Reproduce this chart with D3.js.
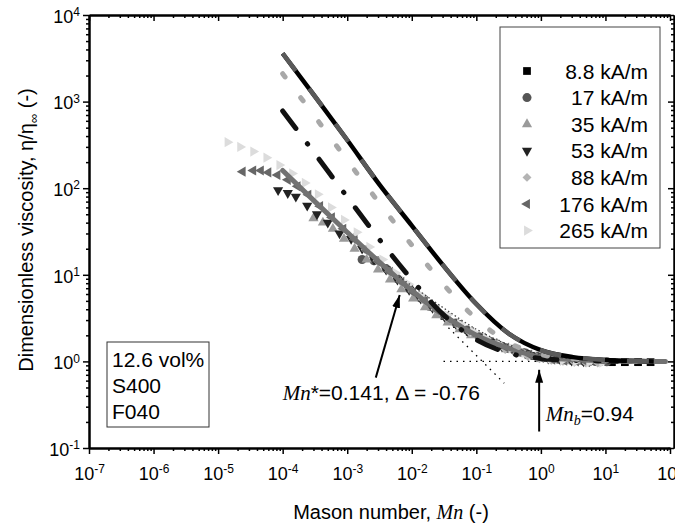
<!DOCTYPE html>
<html>
<head>
<meta charset="utf-8">
<script src="https://cdn.jsdelivr.net/npm/d3@7"></script>
<style>
  body { margin: 0; background: #fff; }
  text { font-family: "Liberation Sans", Arial, sans-serif; fill: #000; }
  .it { font-family: "Liberation Serif", "Times New Roman", serif; font-style: italic; }
</style>
</head>
<body>
<svg id="chart" width="675" height="526"></svg>
<script>
// ---- data ----
const seriesNames = ["8.8 kA/m", "17 kA/m", "35 kA/m", "53 kA/m", "88 kA/m", "176 kA/m", "265 kA/m"];

const mn8   = [0.0126, 0.02, 0.032, 0.05, 0.079, 0.126, 0.2, 0.32, 0.5, 0.79, 1.26, 2.0, 3.2, 5.0, 7.9, 12.6, 20, 32, 50];
const eta8  = [5.6, 4.3, 3.35, 2.7, 2.2, 1.85, 1.6, 1.4, 1.27, 1.16, 1.09, 1.05, 1.02, 1.0, 0.99, 0.98, 0.98, 0.98, 0.98];

const mn17  = [1.7e-3, 2.6e-3, 4.0e-3, 6.0e-3, 9.1e-3, 0.0138, 0.021, 0.032, 0.048, 0.072, 0.11, 0.166, 0.25, 0.38, 0.58, 0.87, 1.3, 2.0, 3.0, 4.6, 6.9, 10.5];
const eta17 = [15, 14.5, 11.8, 9.0, 6.9, 5.4, 4.25, 3.35, 2.78, 2.3, 1.93, 1.7, 1.5, 1.36, 1.25, 1.15, 1.1, 1.06, 1.03, 1.01, 1.0, 0.99];

const mn35  = [3.0e-4, 4.2e-4, 6.0e-4, 8.9e-4, 1.3e-3, 2.0e-3, 3.0e-3, 4.6e-3, 6.9e-3, 0.0105, 0.016, 0.024, 0.036, 0.055, 0.083, 0.126, 0.19, 0.29, 0.44, 0.66, 1.0, 1.5, 2.3, 3.5, 5.2];
const eta35 = [45, 40, 34, 26, 20, 15, 11.5, 8.8, 6.8, 5.3, 4.2, 3.4, 2.8, 2.35, 2.0, 1.75, 1.53, 1.38, 1.25, 1.15, 1.08, 1.03, 1.0, 0.98, 0.96];

const mn53  = [8.5e-5, 1.2e-4, 1.6e-4, 2.4e-4, 3.4e-4, 5.0e-4, 7.6e-4, 1.15e-3, 1.7e-3, 2.6e-3, 4.0e-3, 6.0e-3, 9.1e-3, 0.0138, 0.021, 0.032, 0.048, 0.072, 0.11, 0.166, 0.25, 0.38, 0.58, 0.87, 1.3, 2.0, 3.0, 4.6];
const eta53 = [95, 88, 80, 63, 50, 40, 30, 26, 20, 15, 11.5, 8.8, 6.7, 5.3, 4.15, 3.3, 2.72, 2.25, 1.9, 1.68, 1.49, 1.34, 1.24, 1.14, 1.08, 1.05, 1.02, 1.0];

const mn88  = [1.26e-3, 1.9e-3, 2.9e-3, 4.4e-3, 6.6e-3, 0.01, 0.015, 0.023, 0.035, 0.052, 0.079, 0.12, 0.18, 0.28, 0.42, 0.63, 0.95, 1.45, 2.2, 3.3, 5.0, 7.6];
const eta88 = [27, 19.5, 14.5, 11, 8.4, 6.5, 5.1, 4.0, 3.2, 2.6, 2.15, 1.8, 1.55, 1.37, 1.24, 1.14, 1.07, 1.03, 1.0, 0.98, 0.96, 0.96];

const mn176  = [2.4e-5, 3.5e-5, 4.6e-5, 6.0e-5, 8.3e-5, 1.2e-4, 1.7e-4, 2.5e-4, 3.8e-4, 5.8e-4, 8.7e-4, 1.3e-3, 2.0e-3, 3.0e-3, 4.6e-3, 6.9e-3, 0.0105, 0.016, 0.024, 0.036, 0.055, 0.083, 0.126, 0.19, 0.29, 0.44, 0.66, 1.0, 1.5, 2.3, 3.5, 5.2];
const eta176 = [155, 160, 160, 152, 142, 125, 105, 84, 62, 46, 34, 25.5, 19, 14.2, 10.8, 8.3, 6.3, 5.0, 3.95, 3.15, 2.6, 2.18, 1.87, 1.63, 1.44, 1.3, 1.2, 1.1, 1.05, 1.02, 1.0, 0.98];

const mn265  = [1.4e-5, 2.2e-5, 3.5e-5, 5.6e-5, 8.9e-5, 1.4e-4, 2.2e-4, 3.5e-4, 5.6e-4, 8.9e-4, 1.4e-3, 2.2e-3, 3.5e-3, 5.6e-3, 8.9e-3, 0.014, 0.022, 0.035, 0.056, 0.089, 0.14, 0.22, 0.35, 0.56, 0.89, 1.4, 2.2, 3.5, 5.6, 8.9];
const eta265 = [340, 300, 265, 225, 185, 148, 115, 85, 60, 43, 31, 21, 15, 10.5, 7.8, 5.8, 4.4, 3.4, 2.7, 2.2, 1.85, 1.6, 1.4, 1.25, 1.13, 1.07, 1.03, 1.0, 0.98, 0.97];

const seriesMn  = [mn8, mn17, mn35, mn53, mn88, mn176, mn265];
const seriesEta = [eta8, eta17, eta35, eta53, eta88, eta176, eta265];

// fitted curves
const fitGrid = [1e-4, 3.16e-4, 1e-3, 3.16e-3, 1e-2, 3.16e-2, 0.1, 0.316, 1, 3.16, 10, 31.6];
const fitAMn  = fitGrid.concat([56]);
const fitAEta = [3600, 1150, 360, 110, 37, 12.5, 4.6, 2.1, 1.35, 1.12, 1.04, 1.01, 1.0];
const fitBEta = [2100, 670, 210, 67, 22, 7.6, 3.1, 1.65, 1.2, 1.07, 1.02, 1.0];
const fitCEta = [780, 250, 79, 25.5, 8.8, 3.4, 1.78, 1.25, 1.08, 1.03, 1.01, 1.0];
const fitDMn  = fitGrid.concat([85]);
const fitDEta = [160, 70, 31, 14, 6.6, 3.4, 2.0, 1.42, 1.13, 1.05, 1.02, 1.0, 1.0];
const fitEMn  = [6.3e-3, 1e-2, 3.16e-2, 0.1, 0.316, 1, 3.16, 6.3];
const fitEEta = [9.5, 7.5, 4.1, 2.35, 1.55, 1.2, 1.07, 1.04];

// guide lines and annotations
const slopeMn = [0.037, 0.27], slopeEta = [2.45, 0.56];
const plateauMn = [0.031, 1.0], plateauEta = [1, 1];
const mnStar = 0.141, delta = -0.76, mnB = 0.94;
const starArrowMn = [2.77e-3, 6.5e-3], starArrowEta = [0.65, 5.85];
const bArrowEta = [0.155, 0.8];
const boxLines = ["12.6 vol%", "S400", "F040"];

// ---- chart ----
const svg = d3.select("#chart");
const x = d3.scaleLog().domain([1e-7, 1e2]).range([89, 670]);
const y = d3.scaleLog().domain([1e-1, 1e4]).range([448, 15]);

const decX = d3.range(-7, 3).map(e => Math.pow(10, e));
const decY = d3.range(-1, 5).map(e => Math.pow(10, e));
const minors = decs => decs.slice(0, -1).flatMap(d => d3.range(2, 10).map(k => k * d));

function supLabel(sel) {
  sel.each(function(d) {
    const e = Math.round(Math.log10(d));
    const t = d3.select(this).text("10");
    t.append("tspan").attr("dy", "-0.55em").attr("font-size", "12px").text(e);
  });
}

function styleAxis(g) {
  g.select(".domain").attr("stroke-width", 2);
  g.selectAll(".tick line").attr("stroke-width", 1.5);
}

// minor ticks
svg.append("g").attr("transform", "translate(0,448)")
  .call(d3.axisBottom(x).tickValues(minors(decX)).tickSize(3).tickFormat("").tickSizeOuter(0)).call(styleAxis);
svg.append("g").attr("transform", "translate(0,15)")
  .call(d3.axisBottom(x).tickValues(minors(decX)).tickSize(3).tickFormat("").tickSizeOuter(0)).call(styleAxis);
svg.append("g").attr("transform", "translate(89,0)")
  .call(d3.axisLeft(y).tickValues(minors(decY)).tickSize(3).tickFormat("").tickSizeOuter(0)).call(styleAxis);
svg.append("g").attr("transform", "translate(674,0)")
  .call(d3.axisLeft(y).tickValues(minors(decY)).tickSize(3).tickFormat("").tickSizeOuter(0)).call(styleAxis);

// major ticks
const gx = svg.append("g").attr("transform", "translate(0,448)")
  .call(d3.axisBottom(x).tickValues(decX).tickSize(6).tickPadding(13).tickSizeOuter(0)).call(styleAxis);
gx.attr("font-size", 18).selectAll(".tick text").call(supLabel);

const gy = svg.append("g").attr("transform", "translate(89,0)")
  .call(d3.axisLeft(y).tickValues(decY).tickSize(6).tickPadding(3).tickSizeOuter(0)).call(styleAxis);
gy.attr("font-size", 18).selectAll(".tick text").attr("dy", "0.4em").call(supLabel);

svg.append("g").attr("transform", "translate(0,15)")
  .call(d3.axisBottom(x).tickValues(decX).tickSize(6).tickFormat("").tickSizeOuter(0)).call(styleAxis);
svg.append("g").attr("transform", "translate(674,0)")
  .call(d3.axisLeft(y).tickValues(decY).tickSize(6).tickFormat("").tickSizeOuter(0)).call(styleAxis);

// axis titles
const yt = svg.append("text").attr("transform", "translate(33,230) rotate(-90)")
  .attr("text-anchor", "middle").attr("font-size", 20);
yt.append("tspan").text("Dimensionless viscosity, η/η");
yt.append("tspan").attr("font-size", 13).attr("dy", "0.35em").text("∞");
yt.append("tspan").attr("dy", "-0.23em").text(" (-)");

const xt = svg.append("text").attr("x", 391).attr("y", 519)
  .attr("text-anchor", "middle").attr("font-size", 20);
xt.append("tspan").text("Mason number, ");
xt.append("tspan").attr("class", "it").text("Mn");
xt.append("tspan").text(" (-)");

// markers
const styles = [
  { type: d3.symbolSquare, size: 60, rot: 0, fill: "#000" },
  { type: d3.symbolCircle, size: 64, rot: 0, fill: "#555" },
  { type: d3.symbolTriangle, size: 45, rot: 0, fill: "#9a9a9a" },
  { type: d3.symbolTriangle, size: 45, rot: 180, fill: "#222" },
  { type: d3.symbolSquare, size: 40, rot: 45, fill: "#b4b4b4" },
  { type: d3.symbolTriangle, size: 45, rot: -90, fill: "#666" },
  { type: d3.symbolTriangle, size: 45, rot: 90, fill: "#dcdcdc" }
];

const marks = svg.append("g");
seriesMn.forEach((mns, i) => {
  const st = styles[i];
  const pts = mns.map((m, j) => [m, seriesEta[i][j]]);
  marks.append("g").selectAll("path").data(pts).join("path")
    .attr("d", d3.symbol().type(st.type).size(st.size))
    .attr("transform", d => `translate(${x(d[0])},${y(d[1])}) rotate(${st.rot})`)
    .attr("fill", st.fill);
});

// fit curves
const line = d3.line().x(d => x(d[0])).y(d => y(d[1])).curve(d3.curveMonotoneX);
const zip = (a, b) => a.map((v, i) => [v, b[i]]);
const fits = svg.append("g").attr("fill", "none");

fits.append("path").attr("d", line(zip(fitDMn, fitDEta)))
  .attr("stroke", "#727272").attr("stroke-width", 5).attr("stroke-linecap", "round");
fits.append("path").attr("d", line(zip(fitEMn, fitEEta)))
  .attr("stroke", "#444").attr("stroke-width", 1.3).attr("stroke-dasharray", "1.5,2.5");
fits.append("path").attr("d", line(zip(fitGrid, fitCEta)))
  .attr("stroke", "#111").attr("stroke-width", 5).attr("stroke-linecap", "round")
  .attr("stroke-dasharray", "22,19,0.5,19");
fits.append("path").attr("d", line(zip(fitGrid, fitBEta)))
  .attr("stroke", "#a8a8a8").attr("stroke-width", 5).attr("stroke-linecap", "round")
  .attr("stroke-dasharray", "4,26");
fits.append("path").attr("d", line(zip(fitAMn, fitAEta)))
  .attr("stroke", "#000").attr("stroke-width", 4.5);
fits.append("path").attr("d", line(zip(fitAMn, fitAEta)))
  .attr("stroke", "#5a5a5a").attr("stroke-width", 4.5).attr("stroke-dasharray", "22,22");

// dotted guide lines
fits.append("path").attr("d", d3.line().x(d => x(d[0])).y(d => y(d[1]))(zip(slopeMn, slopeEta)))
  .attr("stroke", "#000").attr("stroke-width", 1.3).attr("stroke-dasharray", "1.5,5");
fits.append("path").attr("d", d3.line().x(d => x(d[0])).y(d => y(d[1]))(zip(plateauMn, plateauEta)))
  .attr("stroke", "#000").attr("stroke-width", 1.3).attr("stroke-dasharray", "1.5,5");

// arrows
svg.append("defs").append("marker")
  .attr("id", "ah").attr("markerUnits", "userSpaceOnUse")
  .attr("markerWidth", 14).attr("markerHeight", 10).attr("refX", 13).attr("refY", 4)
  .attr("orient", "auto")
  .append("path").attr("d", "M0,0 L13,4 L0,8 Z").attr("fill", "#000");

svg.append("line")
  .attr("x1", x(starArrowMn[0])).attr("y1", y(starArrowEta[0]))
  .attr("x2", x(starArrowMn[1])).attr("y2", y(starArrowEta[1]))
  .attr("stroke", "#000").attr("stroke-width", 2).attr("marker-end", "url(#ah)");
svg.append("line")
  .attr("x1", x(mnB)).attr("y1", y(bArrowEta[0]))
  .attr("x2", x(mnB)).attr("y2", y(bArrowEta[1]))
  .attr("stroke", "#000").attr("stroke-width", 2).attr("marker-end", "url(#ah)");

const t1 = svg.append("text").attr("x", x(1e-4)).attr("y", y(0.36)).attr("font-size", 21);
t1.append("tspan").attr("class", "it").text("Mn");
t1.append("tspan").text(`*=${mnStar}, Δ = ${delta}`);

const t2 = svg.append("text").attr("x", x(1.19)).attr("y", y(0.205)).attr("font-size", 21);
t2.append("tspan").attr("class", "it").text("Mn");
t2.append("tspan").attr("class", "it").attr("font-size", 14).attr("dy", "0.3em").text("b");
t2.append("tspan").attr("dy", "-0.2em").text(`=${mnB}`);

// sample box
const box = svg.append("g").attr("transform", "translate(107,342)");
box.append("rect").attr("width", 102).attr("height", 85)
  .attr("fill", "#fff").attr("stroke", "#333").attr("stroke-width", 1);
box.selectAll("text").data(boxLines).join("text")
  .attr("x", 5).attr("y", (d, i) => 25 + i * 26).attr("font-size", 21).text(d => d);

// legend
const lg = svg.append("g").attr("transform", "translate(500,27)");
lg.append("rect").attr("width", 160).attr("height", 221)
  .attr("fill", "#fff").attr("stroke", "#444").attr("stroke-width", 1);
seriesNames.forEach((name, i) => {
  const st = styles[i];
  const cy = 44 + i * 26.6;
  lg.append("path")
    .attr("d", d3.symbol().type(st.type).size(st.size)())
    .attr("transform", `translate(27,${cy}) rotate(${st.rot})`)
    .attr("fill", st.fill);
  lg.append("text").attr("x", 148).attr("y", cy).attr("dy", "0.36em")
    .attr("text-anchor", "end").attr("font-size", 21).text(name);
});
</script>
</body>
</html>
